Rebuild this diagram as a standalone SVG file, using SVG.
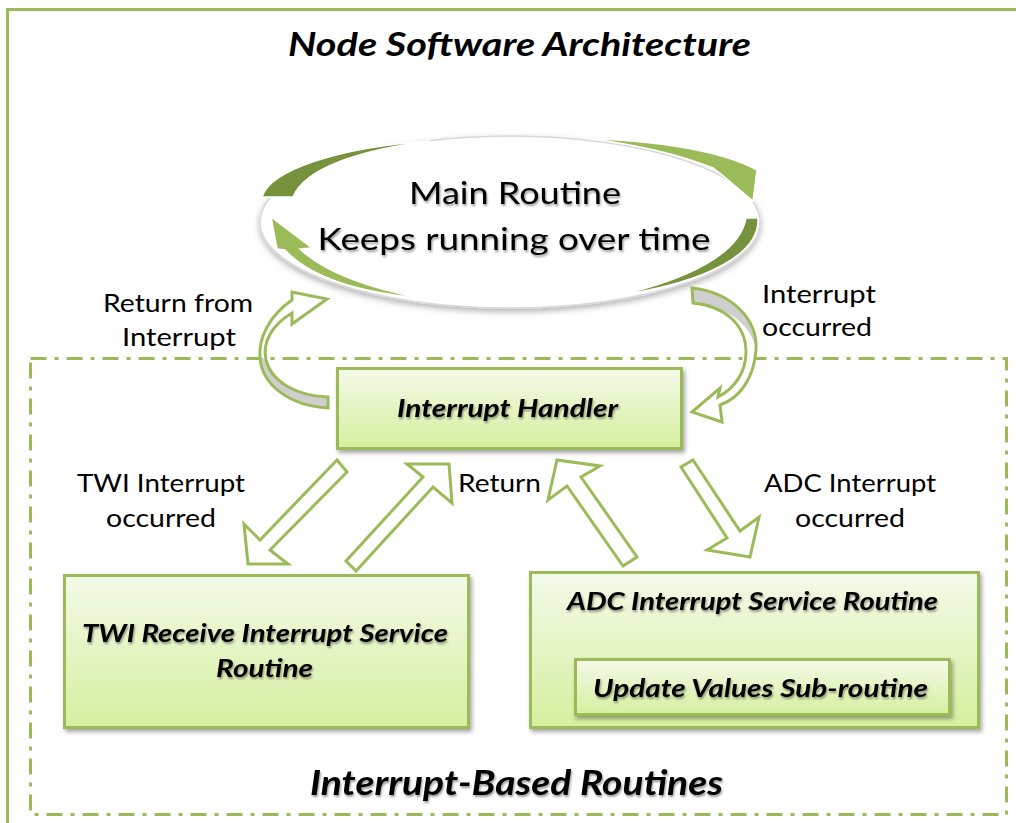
<svg xmlns="http://www.w3.org/2000/svg" width="1016" height="823" viewBox="0 0 1016 823">
<defs>
<linearGradient id="boxg" x1="0" y1="0" x2="0" y2="1">
<stop offset="0" stop-color="#f4fae9"/>
<stop offset="1" stop-color="#d6ef9e"/>
</linearGradient>
<filter id="sh" x="-10%" y="-10%" width="125%" height="135%">
<feDropShadow dx="2" dy="3" stdDeviation="2" flood-color="#000" flood-opacity="0.35"/>
</filter>
<filter id="esh" x="-10%" y="-20%" width="120%" height="150%">
<feDropShadow dx="0" dy="3" stdDeviation="3" flood-color="#000" flood-opacity="0.3"/>
</filter>
<filter id="tsh" x="-5%" y="-20%" width="110%" height="160%">
<feDropShadow dx="1" dy="2" stdDeviation="1.2" flood-color="#000" flood-opacity="0.4"/>
</filter>
<style>
.frame{fill:none;stroke:#9bbb59;stroke-width:3}
.dash{fill:none;stroke:#9bbb59;stroke-width:3;stroke-dasharray:16 8 4 8}
.box{fill:url(#boxg);stroke:#9bbb59;stroke-width:3;filter:url(#sh)}
.blk{fill:#fff;stroke:#9bbb59;stroke-width:3;stroke-linejoin:miter}
.gray{fill:#cfcfcf;stroke:none}
.dark{fill:#76923c;stroke:#fff;stroke-width:1.5}
.light{fill:#9bbb59;stroke:#fff;stroke-width:1.5}
.lbl{font-family:Lato,"Open Sans","Liberation Sans",sans-serif;font-size:25px;fill:#000}
.node{font-family:Lato,"Open Sans","Liberation Sans",sans-serif;font-size:24px;font-weight:bold;font-style:italic;fill:#000;text-anchor:middle;filter:url(#tsh)}
.main{font-family:Lato,"Open Sans","Liberation Sans",sans-serif;font-size:30px;fill:#000;text-anchor:middle;filter:url(#tsh)}
.ttl{font-family:Lato,"Open Sans","Liberation Sans",sans-serif;font-weight:bold;font-style:italic;fill:#000;text-anchor:middle}
</style>
</defs>
<rect width="1016" height="823" fill="#fff"/>
<g id="frame"><rect class="frame" x="7.5" y="9.5" width="1030" height="840"/></g>
<g id="title"><text class="ttl" x="519.5" y="56" font-size="32" textLength="463" lengthAdjust="spacingAndGlyphs">Node Software Architecture</text></g>
<g id="interrupt-based-routines">
<rect class="dash" x="30.5" y="358.5" width="976" height="456"/>
<text class="ttl" x="516.5" y="795" font-size="35" textLength="413" lengthAdjust="spacingAndGlyphs" filter="url(#tsh)">Interrupt-Based Routines</text>
</g>
<g id="main-routine">
<ellipse cx="510" cy="222" rx="250" ry="86" fill="#fff" stroke="#d8d8d8" stroke-width="1.5" filter="url(#esh)"/>
<path class="dark" d="M262,197 C270,170 340,147 430,141 C360,150 305,168 293,197 Z"/>
<path class="light" d="M590,139 C650,140 720,150 757,170 L753,201 L721,174 L713,168 C680,155 640,145 590,139 Z"/>
<path class="dark" d="M758,218 C760,252 712,282 615,296 C692,279 740,252 746,218 Z"/>
<path class="light" d="M271,217 L312,248 L300,249 C322,270 360,286 420,298 C355,292 310,277 285,250 L277,249 Z"/>
<text class="main" x="515" y="204" textLength="212" lengthAdjust="spacingAndGlyphs">Main Routine</text>
<text class="main" x="514" y="250" textLength="393" lengthAdjust="spacingAndGlyphs">Keeps running over time</text>
</g>
<g id="interrupt-handler">
<rect class="box" x="337.5" y="368.5" width="344" height="80"/>
<text class="node" x="507.5" y="417" textLength="221" lengthAdjust="spacingAndGlyphs">Interrupt Handler</text>
</g>
<g id="twi-isr">
<rect class="box" x="64.5" y="575.5" width="404" height="152"/>
<text class="node" x="265" y="642" textLength="366" lengthAdjust="spacingAndGlyphs">TWI Receive Interrupt Service</text>
<text class="node" x="264.5" y="677" textLength="97" lengthAdjust="spacingAndGlyphs">Routine</text>
</g>
<g id="adc-isr">
<rect class="box" x="530.5" y="572.5" width="448" height="155"/>
<text class="node" x="752.5" y="610" textLength="371" lengthAdjust="spacingAndGlyphs">ADC Interrupt Service Routine</text>
<g id="update-values">
<rect class="box" x="575.5" y="659.5" width="374" height="55"/>
<text class="node" x="760.5" y="697" textLength="335" lengthAdjust="spacingAndGlyphs">Update Values Sub-routine</text>
</g>
</g>
<g id="connectors">
<g id="return-from-interrupt">
<path fill="#fff" d="M292,300 C270,315 258,338 260,358 C262,385 290,406 328,408 L328,397 C298,396 272,383 266,360 C262,342 272,325 292,313 L292,324 L327,299 L292,292 Z"/>
<path class="gray" d="M260,356 C262,385 290,406 328,408 L328,397 C298,396 272,383 266,360 Z"/>
<path fill="none" stroke="#9bbb59" stroke-width="3" d="M292,300 C270,315 258,338 260,358 C262,385 290,406 328,408 L328,397 C298,396 272,383 266,360 C262,342 272,325 292,313 L292,324 L327,299 L292,292 Z"/>
</g>
<g id="interrupt-occurred">
<path fill="#fff" d="M692,288 C730,292 758,318 756,350 C754,378 740,398 720,405 L722,422 L692,412 L720,388 L718,397 C735,388 746,372 746,352 C746,325 725,306 693,303 Z"/>
<path class="gray" d="M692,288 C730,292 758,318 755,345 C748,322 725,306 693,303 Z"/>
<path fill="none" stroke="#9bbb59" stroke-width="3" d="M692,288 C730,292 758,318 756,350 C754,378 740,398 720,405 L722,422 L692,412 L720,388 L718,397 C735,388 746,372 746,352 C746,325 725,306 693,303 Z"/>
</g>
<polygon id="twi-call" class="blk" points="337,460 347,472 270,550 288,564 248,564 244,524 260,540"/>
<polygon id="twi-return" class="blk" points="346,561 423,477 407,464 449,464 452,503 433,487 356,571"/>
<polygon id="adc-return" class="blk" points="623,566 567,486 548,500 557,460 600,466 581,477 637,557"/>
<polygon id="adc-call" class="blk" points="681,467 727,538 707,550 750,557 759,517 740,531 693,460"/>
<text class="lbl" x="178" y="312" text-anchor="middle" textLength="150" lengthAdjust="spacingAndGlyphs">Return from</text>
<text class="lbl" x="179" y="346" text-anchor="middle" textLength="114" lengthAdjust="spacingAndGlyphs">Interrupt</text>
<text class="lbl" x="762" y="303" textLength="114" lengthAdjust="spacingAndGlyphs">Interrupt</text>
<text class="lbl" x="762" y="336" textLength="110" lengthAdjust="spacingAndGlyphs">occurred</text>
<text class="lbl" x="161" y="492" text-anchor="middle" textLength="168" lengthAdjust="spacingAndGlyphs">TWI Interrupt</text>
<text class="lbl" x="161" y="527" text-anchor="middle" textLength="110" lengthAdjust="spacingAndGlyphs">occurred</text>
<text class="lbl" x="458" y="492" textLength="83" lengthAdjust="spacingAndGlyphs">Return</text>
<text class="lbl" x="850" y="492" text-anchor="middle" textLength="172" lengthAdjust="spacingAndGlyphs">ADC Interrupt</text>
<text class="lbl" x="850" y="527" text-anchor="middle" textLength="110" lengthAdjust="spacingAndGlyphs">occurred</text>
</g>
</svg>
